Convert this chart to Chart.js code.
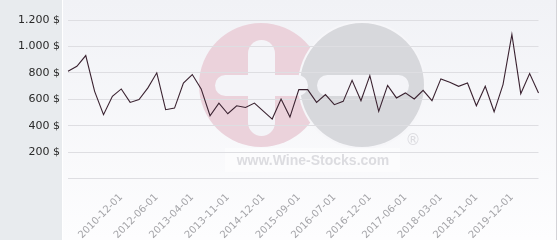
<!DOCTYPE html>
<html>
<head>
<meta charset="utf-8">
<script src="https://cdn.jsdelivr.net/npm/chart.js@4.4.1/dist/chart.umd.min.js"></script>
<style>
  html, body { margin: 0; padding: 0; background: #fff; }
  #wrap { width: 560px; height: 240px; }
</style>
</head>
<body>
<div id="wrap"><canvas id="priceChart" width="560" height="240"></canvas></div>
<script>
const prices = [812, 850, 931, 660, 483, 622, 678, 576, 597, 686,
                800, 521, 533, 723, 787, 678, 475, 571, 490, 551,
                538, 571, 510, 450, 602, 465, 673, 673, 576, 635,
                559, 584, 743, 589, 779, 508, 705, 610, 648, 602,
                667, 589, 754, 728, 698, 723, 551, 698, 505, 711,
                1091, 642, 794, 648];

// dates shown on the x axis (every 4th point, starting at the 7th)
const tickLabels = ['2010-12-01', '2012-06-01', '2013-04-01', '2013-11-01',
                    '2014-12-01', '2015-09-01', '2016-07-01', '2016-12-01',
                    '2017-06-01', '2018-03-01', '2018-11-01', '2019-12-01'];
const tickStart = 6;
const tickEvery = 4;

const yTicks = [0, 200, 400, 600, 800, 1000, 1200];

const categories = prices.map((p, i) => {
  const k = (i - tickStart) / tickEvery;
  return (i >= tickStart && Number.isInteger(k) && tickLabels[k]) ? tickLabels[k] : '';
});

function fmtDollar(v) {
  return String(v).replace(/\B(?=(\d{3})+(?!\d))/g, '.') + ' $';
}

const backdrop = {
  id: 'backdrop',
  beforeDraw(chart) {
    const ctx = chart.ctx;
    const W = chart.width, H = chart.height;
    ctx.save();
    ctx.fillStyle = '#fff';
    ctx.fillRect(0, 0, W, H);
    // left grey panel
    ctx.fillStyle = '#e8ebee';
    ctx.fillRect(0, 0, 62, H);
    // plot panel
    const g = ctx.createLinearGradient(0, 0, 0, H);
    g.addColorStop(0, '#f1f2f6');
    g.addColorStop(1, '#fdfdfe');
    ctx.fillStyle = g;
    ctx.fillRect(63, 0, 493, H);
    ctx.fillStyle = '#d4d4d8';
    ctx.fillRect(556, 0, 1, H);

    // watermark logo
    const cy = 85, r = 62;
    ctx.fillStyle = '#ebd2db';
    ctx.beginPath(); ctx.arc(261, cy, r, 0, Math.PI * 2); ctx.fill();
    ctx.fillStyle = '#f6f6f9';
    ctx.beginPath(); ctx.arc(362, cy, r + 2, 0, Math.PI * 2); ctx.fill();
    ctx.fillStyle = '#d7d8dc';
    ctx.beginPath(); ctx.arc(362, cy, r, 0, Math.PI * 2); ctx.fill();

    const bar = (x, y, w, h) => {
      const rr = Math.min(w, h) / 2;
      ctx.beginPath();
      ctx.roundRect(x, y, w, h, rr);
      ctx.fill();
    };
    ctx.fillStyle = '#f4f4f8';
    bar(215, 75, 93, 21);   // plus horizontal
    bar(248, 40, 27, 96);   // plus vertical
    bar(317, 75, 92, 21);   // minus

    ctx.fillStyle = 'rgba(255,255,255,0.45)';
    ctx.fillRect(225, 148, 175, 24);
    ctx.fillStyle = '#dcdce0';
    ctx.font = 'bold 14px "Liberation Sans", Arial, sans-serif';
    ctx.textAlign = 'center';
    ctx.textBaseline = 'alphabetic';
    ctx.fillText('www.Wine-Stocks.com', 313, 165);
    ctx.font = '15px "DejaVu Sans", sans-serif';
    ctx.fillText('®', 413, 145);
    ctx.restore();
  }
};

new Chart(document.getElementById('priceChart'), {
  type: 'line',
  data: {
    labels: categories,
    datasets: [{
      data: prices,
      borderColor: '#3a2230',
      borderWidth: 1.1,
      pointRadius: 0,
      tension: 0,
      fill: false
    }]
  },
  options: {
    responsive: false,
    animation: false,
    layout: { padding: { top: 20, right: 6, left: 0, bottom: 0 } },
    plugins: { legend: { display: false }, tooltip: { enabled: false } },
    scales: {
      x: {
        grid: { display: false, drawTicks: false },
        border: { display: false },
        ticks: {
          autoSkip: false,
          minRotation: 45,
          maxRotation: 45,
          padding: 13,
          color: '#a4a4a8',
          font: { family: 'DejaVu Sans', size: 10 }
        },
        afterFit(scale) { scale.height = 61.5; }
      },
      y: {
        min: 0,
        max: 1200,
        afterBuildTicks(scale) { scale.ticks = yTicks.map(v => ({ value: v })); },
        grid: { color: '#dedee2', drawTicks: false },
        border: { display: false },
        ticks: {
          padding: 8,
          color: '#2a2a2a',
          font: { family: 'DejaVu Sans', size: 11 },
          callback: v => v === 0 ? '' : fmtDollar(v)
        },
        afterFit(scale) { scale.width = 68; }
      }
    }
  },
  plugins: [backdrop]
});
</script>
</body>
</html>
